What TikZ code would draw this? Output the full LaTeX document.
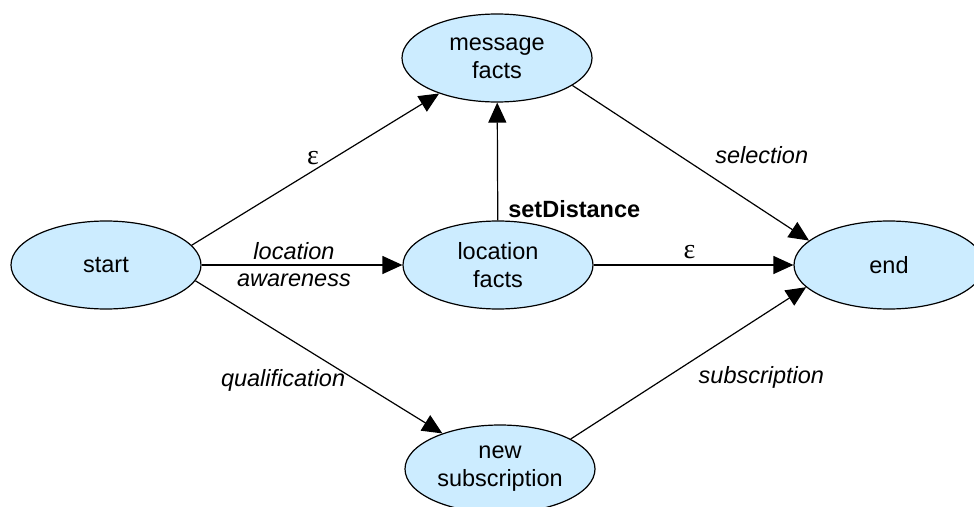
\documentclass[tikz,border=0pt]{standalone}
\usepackage{fontspec}
\setmainfont{Liberation Sans}
\newfontfamily\epsfont{Liberation Serif}
\usetikzlibrary{shapes.geometric,arrows.meta}
\definecolor{statefill}{RGB}{204,236,255}
\begin{document}
\begin{tikzpicture}[x=1pt,y=-1pt,
  state/.style={ellipse, draw, line width=1.2pt, fill=statefill,
    minimum width=190pt, minimum height=88pt, inner sep=0pt, align=center,
    font=\fontsize{23.5}{28}\selectfont},
  trans/.style={line width=1.2pt, -{Triangle[length=20pt,width=18pt]}},
  lbl/.style={font=\fontsize{23.5}{27}\selectfont\itshape, inner sep=0pt, align=center},
  boldlbl/.style={font=\fontsize{23.5}{27}\selectfont\bfseries, inner sep=0pt},
  eps/.style={font=\fontsize{28}{30}\epsfont, inner sep=0pt},
]
\useasboundingbox (0,0) rectangle (974,506);

% states
\node[state] (start)  at (106,265) {start};
\node[state] (msg)    at (497,58)  {message\\facts};
\node[state] (loc)    at (498,265) {location\\facts};
\node[state] (finish) at (889,265) {end};
\node[state] (newsub) at (500,469) {new\\subscription};

% transitions
\draw[trans] (start.13) -- node[eps, pos=0.49, above=6pt] {ε} (msg);
\draw[trans] (start) -- node[lbl, pos=0.46] {location\\awareness} (loc);
\draw[trans] (start.-10) -- node[lbl, pos=0.355, below=34pt] {qualification} (newsub);
\draw[trans] (loc) -- node[boldlbl, pos=0.1, right=10pt] {setDistance} (msg);
\draw[trans] (loc) -- node[eps, pos=0.48, above=6pt] {ε} (finish);
\draw[trans] (msg.-20) -- node[lbl, pos=0.8, above=45pt] {selection} (finish.163);
\draw[trans] (newsub.23) -- node[lbl, pos=0.81, below=50pt] {subscription} (finish.195);
\end{tikzpicture}
\end{document}
